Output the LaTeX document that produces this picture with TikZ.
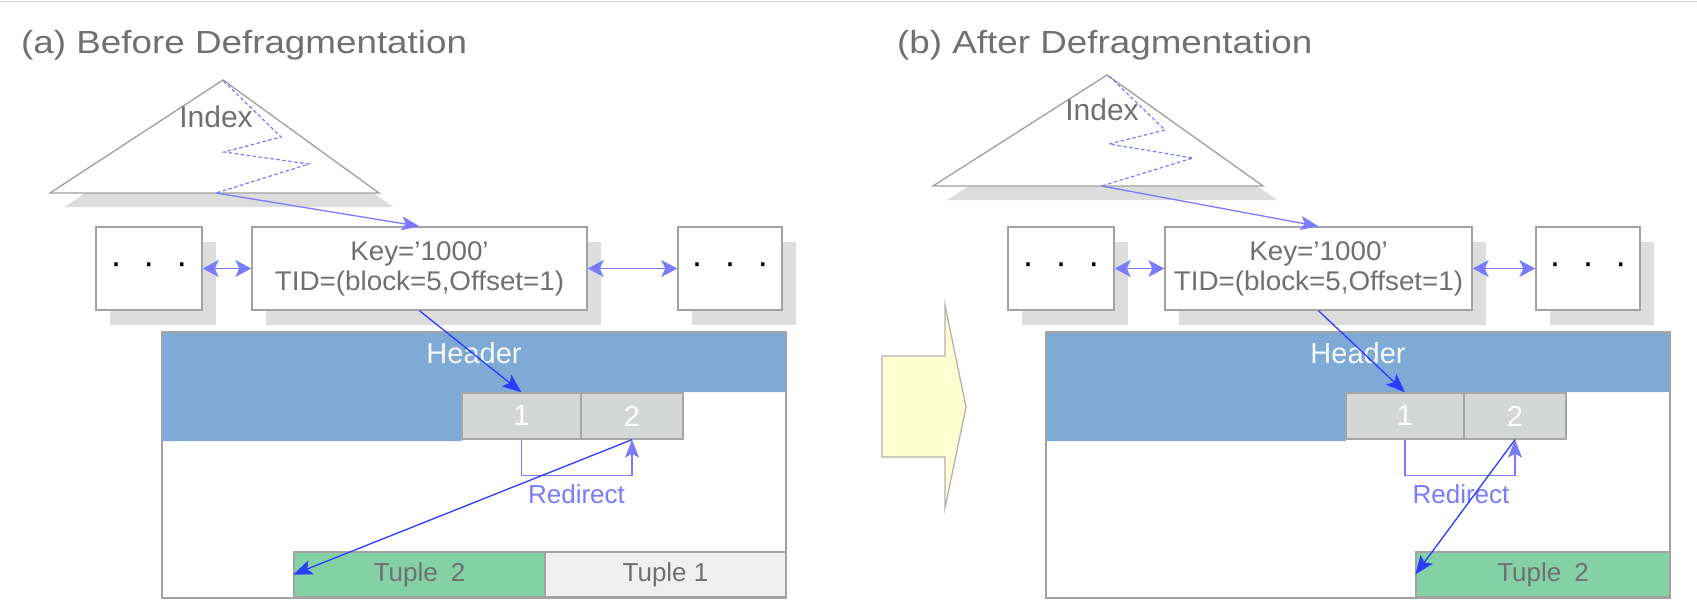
\documentclass[tikz,border=0pt]{standalone}
\usepackage{fontspec}
\setmainfont{Liberation Sans}
\newfontfamily\titlefont[FakeStretch=1.15]{Liberation Sans}
\newfontfamily\keyfont[FakeStretch=1.03]{Liberation Sans}
\usepackage{xcolor}
\usepackage{tikz}
\usetikzlibrary{arrows.meta, positioning, shadows}
\definecolor{txtgray}{HTML}{707070}
\definecolor{linegray}{HTML}{A3A3A3}
\definecolor{shadowgray}{HTML}{DDDDDD}
\definecolor{hdrblue}{HTML}{7FAAD5}
\definecolor{slotgray}{HTML}{D5D7D6}
\definecolor{tuplegreen}{HTML}{84D1A6}
\definecolor{tuplegray}{HTML}{F0F0F0}
\definecolor{ptrlight}{HTML}{7B7BFF}
\definecolor{ptrdark}{HTML}{2B3DFF}
\definecolor{arrowyellow}{HTML}{FFFDD2}
\tikzstyle{heading} = [anchor=base west, inner sep=0pt, text=txtgray, font=\titlefont\fontsize{32}{36}\selectfont]
\tikzstyle{topline} = [draw=gray!35, line width=1.5pt]
\tikzstyle{tree} = [draw=gray!75, fill=white, line width=1.3pt, drop shadow={shadow xshift=14pt, shadow yshift=-14pt, fill=shadowgray, opacity=1}]
\tikzstyle{treelabel} = [inner sep=0pt, text=txtgray, font=\fontsize{30}{32}\selectfont]
\tikzstyle{zigzag} = [draw=ptrlight, line width=1.2pt, dash pattern=on 3.5pt off 2.5pt]
\tikzstyle{dotbox} = [rectangle, draw=linegray, fill=white, line width=1.4pt, minimum height=83pt, inner sep=0pt, font=\fontsize{36}{36}\selectfont, drop shadow={shadow xshift=14pt, shadow yshift=-15pt, fill=shadowgray, opacity=1}]
\tikzstyle{keybox} = [dotbox, align=center, text=txtgray, font=\keyfont\fontsize{27}{30}\selectfont]
\tikzstyle{pagebox} = [rectangle, draw=linegray, fill=white, line width=1.6pt, minimum width=624pt, minimum height=266pt, inner sep=0pt]
\tikzstyle{hdrlabel} = [inner sep=0pt, text=white!93!hdrblue, font=\fontsize{29}{32}\selectfont]
\tikzstyle{slotbox} = [rectangle, draw=gray!70, fill=slotgray, line width=1.3pt, minimum height=46pt, inner sep=0pt, text=white, font=\fontsize{29}{30}\selectfont]
\tikzstyle{tuplebox} = [rectangle, draw=linegray, line width=1.3pt, minimum height=45pt, inner sep=0pt, text=txtgray, font=\fontsize{26}{28}\selectfont]
\tikzstyle{redirlabel} = [inner sep=0pt, text=ptrlight, font=\fontsize{26}{28}\selectfont]
\tikzstyle{lightarrow} = [draw=ptrlight, line width=1.3pt, -{Stealth[length=18pt, width=14pt, inset=4pt]}]
\tikzstyle{linkarrow} = [draw=ptrlight, line width=1.3pt, {Stealth[length=16pt, width=17pt, inset=4pt]}-{Stealth[length=16pt, width=17pt, inset=4pt]}]
\tikzstyle{darkarrow} = [draw=ptrdark, line width=1.3pt, -{Stealth[length=19pt, width=15pt, inset=4pt]}]
\tikzstyle{fatarrow} = [draw=gray!60, fill=arrowyellow, line width=1.3pt, line join=miter]

\begin{document}
\begin{tikzpicture}[x=1pt, y=-1pt]
  \useasboundingbox (0,0) rectangle (1697,611);
  \draw[topline] (0,1.5) -- (1697,1.5);

  \node (titleA) [heading] at (21,53) {(a) Before Defragmentation};
  \node (titleB) [heading] at (897,53) {(b) After Defragmentation};

  \draw[tree] (223,80) -- (379,193) -- (50,193) -- cycle;
  \node (indexA) [treelabel] at (216,117) {Index};
  \coordinate (leafA) at (216,193);
  \draw[zigzag] (223.5,81) -- (281,137) -- (224,152) -- (309,164) -- (leafA);

  \node (leftA) [dotbox, minimum width=106pt] at (149,268.5) {·\hspace{21pt}·\hspace{21pt}·};
  \node (keyA) [keybox, minimum width=335pt] at (419.5,268.5) {Key=’1000’\\TID=(block=5,Offset=1)};
  \node (rightA) [dotbox, minimum width=104pt] at (730,268.5) {·\hspace{21pt}·\hspace{21pt}·};

  \node (pageA) [pagebox] at (474,465) {};
  \fill[hdrblue] (163,333) -- (785,333) -- (785,392) -- (462,392) -- (462,441) -- (163,441) -- cycle;
  \node (hdrA) [hdrlabel] at (474,353) {Header};
  \node (slot1A) [slotbox, minimum width=119pt] at (521.5,416) {1};
  \node (slot2A) [slotbox, minimum width=102pt] at (632,416) {2};
  \node (tuple2A) [tuplebox, fill=tuplegreen, minimum width=251pt] at (419.5,574.5) {Tuple\enspace 2};
  \node (tuple1A) [tuplebox, fill=tuplegray, minimum width=241pt] at (665.5,574.5) {Tuple 1};
  \node (redirA) [redirlabel] at (576.5,494) {Redirect};

  \draw[lightarrow] (leafA) -- (keyA.north);
  \draw[linkarrow] (leftA) -- (keyA);
  \draw[linkarrow] (keyA) -- (rightA);
  \draw[darkarrow] (keyA.south) -- (slot1A.north);
  \draw[lightarrow] (slot1A.south) -- ++(0,36) -| (slot2A.south);
  \draw[darkarrow] (slot2A.south) -- (tuple2A.west);

  \draw[fatarrow] (882,356) -- (945,356) -- (945,305) -- (966,407) -- (945,508) -- (945,457) -- (882,457) -- cycle;

  \draw[tree] (1107,75) -- (1263,186) -- (933,186) -- cycle;
  \node (indexB) [treelabel] at (1102,110) {Index};
  \coordinate (leafB) at (1101.5,186);
  \draw[zigzag] (1109,76) -- (1165,130) -- (1109,144) -- (1193,158) -- (leafB);

  \node (leftB) [dotbox, minimum width=106pt] at (1061,268.5) {·\hspace{21pt}·\hspace{21pt}·};
  \node (keyB) [keybox, minimum width=307pt] at (1318.5,268.5) {Key=’1000’\\TID=(block=5,Offset=1)};
  \node (rightB) [dotbox, minimum width=104pt] at (1588,268.5) {·\hspace{21pt}·\hspace{21pt}·};

  \node (pageB) [pagebox] at (1358,465) {};
  \fill[hdrblue] (1047,333) -- (1669,333) -- (1669,392) -- (1346,392) -- (1346,441) -- (1047,441) -- cycle;
  \node (hdrB) [hdrlabel] at (1358,353) {Header};
  \node (slot1B) [slotbox, minimum width=118pt] at (1405,416) {1};
  \node (slot2B) [slotbox, minimum width=102pt] at (1515,416) {2};
  \node (tuple2B) [tuplebox, fill=tuplegreen, minimum width=254pt] at (1543,574.5) {Tuple\enspace 2};
  \node (redirB) [redirlabel] at (1461,494) {Redirect};

  \draw[lightarrow] (leafB) -- (keyB.north);
  \draw[linkarrow] (leftB) -- (keyB);
  \draw[linkarrow] (keyB) -- (rightB);
  \draw[darkarrow] (keyB.south) -- (slot1B.north);
  \draw[lightarrow] (slot1B.south) -- ++(0,36) -| (slot2B.south);
  \draw[darkarrow] (slot2B.south) -- (tuple2B.west);
\end{tikzpicture}
\end{document}
